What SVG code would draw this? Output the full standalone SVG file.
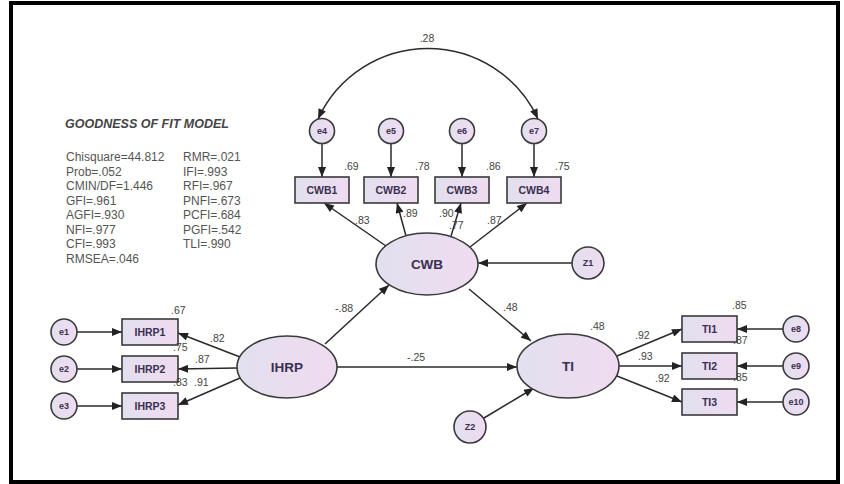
<svg xmlns="http://www.w3.org/2000/svg" width="844" height="484" viewBox="0 0 844 484">
<defs>
<linearGradient id="g" x1="0" y1="0" x2="1" y2="0">
<stop offset="0" stop-color="#e2e0ef"/>
<stop offset="1" stop-color="#f0dbf1"/>
</linearGradient>
<marker id="ah" viewBox="0 0 10 8" refX="10" refY="4" markerWidth="11" markerHeight="8" markerUnits="userSpaceOnUse" orient="auto-start-reverse">
<path d="M0,0 L10,4 L0,8 Z" fill="#222"/>
</marker>
<style>
.nd rect, .nd ellipse, .nd circle { fill: url(#g); stroke: #3a3a3a; stroke-width: 1.6; }
.lbl { font-family: "Liberation Sans", Arial, sans-serif; font-weight: bold; fill: #3a3050; text-anchor: middle; }
.box { font-size: 10.5px; }
.lat { font-size: 13.5px; }
.err { font-size: 9px; }
.num { font-family: "Liberation Sans", Arial, sans-serif; font-size: 10.5px; fill: #444; }
.fit { font-family: "Liberation Sans", Arial, sans-serif; font-size: 12px; fill: #555; }
#connectors path, #connectors line { stroke: #2a2a2a; stroke-width: 1.5; fill: none; marker-end: url(#ah); }
</style>
</defs>
<rect width="844" height="484" fill="#fff"/>
<g id="frame" fill="#000">
<rect x="9" y="1" width="831" height="4"/>
<rect x="9" y="1" width="4" height="483"/>
<rect x="9" y="480" width="831" height="4"/>
<rect x="836" y="1" width="4" height="483"/>
</g>

<g id="fit">
<text x="65" y="128" font-family="Liberation Sans, Arial, sans-serif" font-size="12.5" font-weight="bold" font-style="italic" fill="#444">GOODNESS OF FIT MODEL</text>
<text class="fit" x="66" y="161">Chisquare=44.812</text>
<text class="fit" x="66" y="175.5">Prob=.052</text>
<text class="fit" x="66" y="190">CMIN/DF=1.446</text>
<text class="fit" x="66" y="204.5">GFI=.961</text>
<text class="fit" x="66" y="219">AGFI=.930</text>
<text class="fit" x="66" y="233.5">NFI=.977</text>
<text class="fit" x="66" y="248">CFI=.993</text>
<text class="fit" x="66" y="262.5">RMSEA=.046</text>
<text class="fit" x="183" y="161">RMR=.021</text>
<text class="fit" x="183" y="175.5">IFI=.993</text>
<text class="fit" x="183" y="190">RFI=.967</text>
<text class="fit" x="183" y="204.5">PNFI=.673</text>
<text class="fit" x="183" y="219">PCFI=.684</text>
<text class="fit" x="183" y="233.5">PGFI=.542</text>
<text class="fit" x="183" y="248">TLI=.990</text>
</g>

<g id="connectors">
<path d="M318,119 A121,121 0 0 1 538,119" marker-start="url(#ah)"/>
<line x1="322" y1="143.5" x2="322" y2="177"/>
<line x1="391" y1="143.5" x2="391" y2="177"/>
<line x1="462" y1="143.5" x2="462" y2="177"/>
<line x1="534" y1="143.5" x2="534" y2="177"/>
<line x1="386" y1="246" x2="324" y2="203"/>
<line x1="406" y1="236" x2="397" y2="203"/>
<line x1="451" y1="236" x2="461" y2="203"/>
<line x1="470" y1="247" x2="527" y2="203"/>
<line x1="572" y1="263" x2="478" y2="263"/>
<line x1="325" y1="344" x2="389" y2="285"/>
<line x1="469" y1="289" x2="531" y2="341"/>
<line x1="337" y1="367" x2="517" y2="367"/>
<line x1="484" y1="418" x2="534" y2="388"/>
<line x1="240" y1="357" x2="178" y2="333"/>
<line x1="237" y1="368" x2="178" y2="369"/>
<line x1="240" y1="378" x2="178" y2="405"/>
<line x1="77" y1="332" x2="122" y2="332"/>
<line x1="77" y1="369" x2="122" y2="369"/>
<line x1="77" y1="406" x2="122" y2="406"/>
<line x1="617" y1="356" x2="682" y2="329"/>
<line x1="619" y1="366" x2="682" y2="366"/>
<line x1="617" y1="376" x2="682" y2="402"/>
<line x1="783" y1="329" x2="737" y2="329"/>
<line x1="783" y1="366" x2="737" y2="366"/>
<line x1="783" y1="402" x2="737" y2="402"/>
</g>

<g id="n-e4" class="nd"><circle cx="322" cy="131" r="12.5"/><text class="lbl err" x="322" y="134">e4</text></g>
<g id="n-e5" class="nd"><circle cx="391" cy="131" r="12.5"/><text class="lbl err" x="391" y="134">e5</text></g>
<g id="n-e6" class="nd"><circle cx="462" cy="131" r="12.5"/><text class="lbl err" x="462" y="134">e6</text></g>
<g id="n-e7" class="nd"><circle cx="534" cy="131" r="12.5"/><text class="lbl err" x="534" y="134">e7</text></g>

<g id="n-CWB1" class="nd"><rect x="295" y="177" width="54" height="26"/><text class="lbl box" x="322" y="194">CWB1</text></g>
<g id="n-CWB2" class="nd"><rect x="364" y="177" width="54" height="26"/><text class="lbl box" x="391" y="194">CWB2</text></g>
<g id="n-CWB3" class="nd"><rect x="435" y="177" width="54" height="26"/><text class="lbl box" x="462" y="194">CWB3</text></g>
<g id="n-CWB4" class="nd"><rect x="507" y="177" width="54" height="26"/><text class="lbl box" x="534" y="194">CWB4</text></g>

<g id="n-CWB" class="nd"><ellipse cx="427" cy="264" rx="51" ry="31"/><text class="lbl lat" x="427" y="269">CWB</text></g>
<g id="n-Z1" class="nd"><circle cx="588" cy="263" r="16"/><text class="lbl err" x="588" y="266">Z1</text></g>

<g id="n-IHRP" class="nd"><ellipse cx="287" cy="367" rx="50" ry="31"/><text class="lbl lat" x="287" y="372">IHRP</text></g>
<g id="n-TI" class="nd"><ellipse cx="568" cy="366" rx="51" ry="32"/><text class="lbl lat" x="568" y="371">TI</text></g>
<g id="n-Z2" class="nd"><circle cx="470" cy="427" r="16"/><text class="lbl err" x="470" y="430">Z2</text></g>

<g id="n-IHRP1" class="nd"><rect x="122" y="319" width="56" height="26"/><text class="lbl box" x="150" y="336">IHRP1</text></g>
<g id="n-IHRP2" class="nd"><rect x="122" y="356" width="56" height="26"/><text class="lbl box" x="150" y="373">IHRP2</text></g>
<g id="n-IHRP3" class="nd"><rect x="122" y="393" width="56" height="26"/><text class="lbl box" x="150" y="410">IHRP3</text></g>
<g id="n-e1" class="nd"><circle cx="64" cy="332" r="13"/><text class="lbl err" x="64" y="335">e1</text></g>
<g id="n-e2" class="nd"><circle cx="64" cy="369" r="13"/><text class="lbl err" x="64" y="372">e2</text></g>
<g id="n-e3" class="nd"><circle cx="64" cy="406" r="13"/><text class="lbl err" x="64" y="409">e3</text></g>

<g id="n-TI1" class="nd"><rect x="682" y="316" width="55" height="26"/><text class="lbl box" x="709.5" y="333">TI1</text></g>
<g id="n-TI2" class="nd"><rect x="682" y="353" width="55" height="26"/><text class="lbl box" x="709.5" y="370">TI2</text></g>
<g id="n-TI3" class="nd"><rect x="682" y="389" width="55" height="26"/><text class="lbl box" x="709.5" y="406">TI3</text></g>
<g id="n-e8" class="nd"><circle cx="796" cy="329" r="13"/><text class="lbl err" x="796" y="332">e8</text></g>
<g id="n-e9" class="nd"><circle cx="796" cy="366" r="13"/><text class="lbl err" x="796" y="369">e9</text></g>
<g id="n-e10" class="nd"><circle cx="796" cy="402" r="13"/><text class="lbl err" x="796" y="405">e10</text></g>

<g id="labels">
<text class="num" x="427" y="42" text-anchor="middle">.28</text>
<text class="num" x="344" y="170">.69</text>
<text class="num" x="415" y="170">.78</text>
<text class="num" x="486" y="170">.86</text>
<text class="num" x="555" y="170">.75</text>
<text class="num" x="355" y="224">.83</text>
<text class="num" x="403" y="217">.89</text>
<text class="num" x="439" y="217">.90</text>
<text class="num" x="449" y="229">.77</text>
<text class="num" x="487" y="224">.87</text>
<text class="num" x="335" y="312">-.88</text>
<text class="num" x="503" y="311">.48</text>
<text class="num" x="407" y="361">-.25</text>
<text class="num" x="590" y="330">.48</text>
<text class="num" x="635" y="339">.92</text>
<text class="num" x="638" y="360">.93</text>
<text class="num" x="655" y="382">.92</text>
<text class="num" x="732" y="309">.85</text>
<text class="num" x="733" y="344">.87</text>
<text class="num" x="733" y="381">.85</text>
<text class="num" x="171" y="314">.67</text>
<text class="num" x="210" y="342">.82</text>
<text class="num" x="173" y="351">.75</text>
<text class="num" x="195" y="363">.87</text>
<text class="num" x="173" y="386">.83</text>
<text class="num" x="194" y="386">.91</text>
</g>
</svg>
